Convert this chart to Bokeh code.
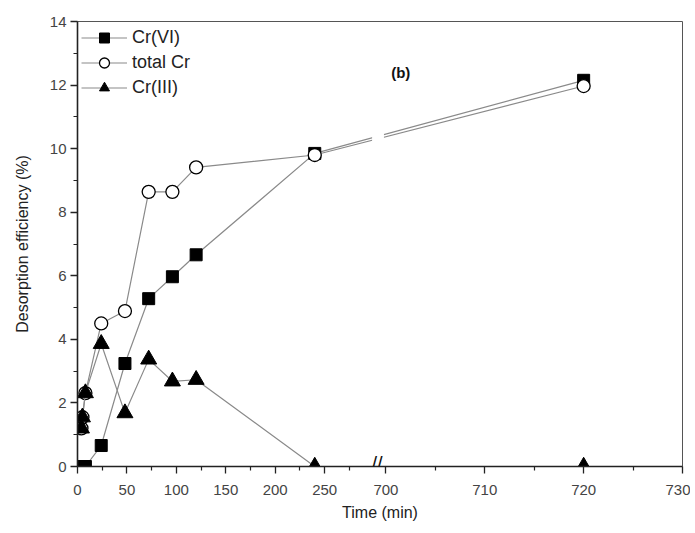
from bokeh.plotting import figure
from bokeh.models import FixedTicker, Label, BoxAnnotation, Legend, LegendItem
from bokeh.embed import file_html
from bokeh.resources import INLINE

# ---- data ----
time_min = [4, 5, 8, 24, 48, 72, 96, 120, 240, 720]
cr_vi = [0, 0, 0, 0.66, 3.24, 5.28, 5.97, 6.66, 9.85, 12.15]
total_cr = [1.2, 1.55, 2.31, 4.50, 4.89, 8.64, 8.64, 9.41, 9.80, 11.97]
cr_iii = [1.2, 1.55, 2.31, 3.86, 1.68, 3.37, 2.68, 2.73, 0, 0]

left_ticks = [0, 50, 100, 150, 200, 250]
left_minor = [25, 75, 125, 175, 225, 275]
right_ticks = [700, 710, 720, 730]
right_minor = [705, 715, 725]
y_ticks = [0, 2, 4, 6, 8, 10, 12, 14]
y_minor = [1, 3, 5, 7, 9, 11, 13]

# broken axis mapping (axis units)
BREAK_U = 312      # axis position of 700 min
SCALE_RIGHT = 10   # right segment magnification
GAP_LEFT, GAP_RIGHT = 298, 310   # axis-unit band of the break


def u(t):
    return t if t <= 300 else BREAK_U + (t - 700) * SCALE_RIGHT


xs = [u(t) for t in time_min]

FONT = "Liberation Sans"

p = figure(width=690, height=530, output_backend="svg", toolbar_location=None,
           x_range=(0, u(730)), y_range=(0, 14),
           min_border_left=77, min_border_right=8, min_border_top=21, min_border_bottom=64)
p.grid.visible = False
p.outline_line_color = "#555"
p.outline_line_width = 1
p.background_fill_color = "white"
p.border_fill_color = "white"

line_kw = dict(line_color="#8a8a8a", line_width=1.2)

l1 = p.line(xs, cr_vi, **line_kw)
m1 = p.scatter(xs, cr_vi, marker="square", size=12, fill_color="black", line_color="black")
l2 = p.line(xs, total_cr, **line_kw)
m2 = p.scatter(xs, total_cr, marker="circle", size=13, fill_color="white", line_color="black", line_width=1.3)
l3 = p.line(xs, cr_iii, **line_kw)
m3 = p.scatter(xs, cr_iii, marker="triangle", size=16, fill_color="black", line_color="black")

# gap in the lines at the axis break
p.add_layout(BoxAnnotation(left=GAP_LEFT, right=GAP_RIGHT, bottom=0.5, top=13.6,
                           fill_color="white", fill_alpha=1, line_alpha=0, level="overlay"))

# break marks on the axis
p.add_layout(Label(x=(GAP_LEFT + GAP_RIGHT) / 2 - 1, y=0, text="//", text_font=FONT,
                   text_font_size="20px", text_align="center",
                   text_baseline="middle", text_color="#111", y_offset=3, level="overlay"))

# axes
xt = left_ticks + [u(t) for t in right_ticks]
xm = left_minor + [u(t) for t in right_minor]
p.xaxis.ticker = FixedTicker(ticks=xt, minor_ticks=xm)
p.xaxis.major_label_overrides = {u(t): str(t) for t in left_ticks + right_ticks}
p.yaxis.ticker = FixedTicker(ticks=y_ticks, minor_ticks=y_minor)

for ax in (p.xaxis[0], p.yaxis[0]):
    ax.axis_line_width = 1.6
    ax.axis_line_color = "#222"
    ax.major_tick_line_color = "#222"
    ax.minor_tick_line_color = "#222"
    ax.major_tick_line_width = 1.3
    ax.minor_tick_line_width = 1.2
    ax.major_tick_out = 7
    ax.major_tick_in = 0
    ax.minor_tick_out = 4
    ax.minor_tick_in = 0
    ax.major_label_text_font = FONT
    ax.major_label_text_font_size = "15px"
    ax.major_label_text_color = "#444"
    ax.axis_label_text_font = FONT
    ax.axis_label_text_font_size = "16px"
    ax.axis_label_text_font_style = "normal"
    ax.axis_label_text_color = "#222"

p.xaxis.axis_label = "Time (min)"
p.yaxis.axis_label = "Desorption efficiency (%)"
p.xaxis.axis_label_standoff = 6
p.yaxis.axis_label_standoff = 16
p.xaxis.major_label_standoff = 11
p.yaxis.major_label_standoff = 4

p.add_layout(Label(x=u(701.5), y=12.4, text="(b)", text_font=FONT, text_font_size="15px",
                   text_font_style="bold", text_align="center", text_baseline="middle",
                   text_color="#111"))

legend = Legend(items=[
    LegendItem(label="Cr(VI)", renderers=[l1, m1]),
    LegendItem(label="total Cr", renderers=[l2, m2]),
    LegendItem(label="Cr(III)", renderers=[l3, m3]),
], location="top_left")
legend.background_fill_alpha = 0
legend.border_line_alpha = 0
legend.label_text_font = FONT
legend.label_text_font_size = "18px"
legend.label_text_color = "#222"
legend.glyph_width = 46
legend.glyph_height = 25
legend.spacing = 0
legend.padding = 1
legend.margin = 3
legend.label_standoff = 5
p.add_layout(legend)

open("out.html", "w").write(file_html(p, INLINE))
